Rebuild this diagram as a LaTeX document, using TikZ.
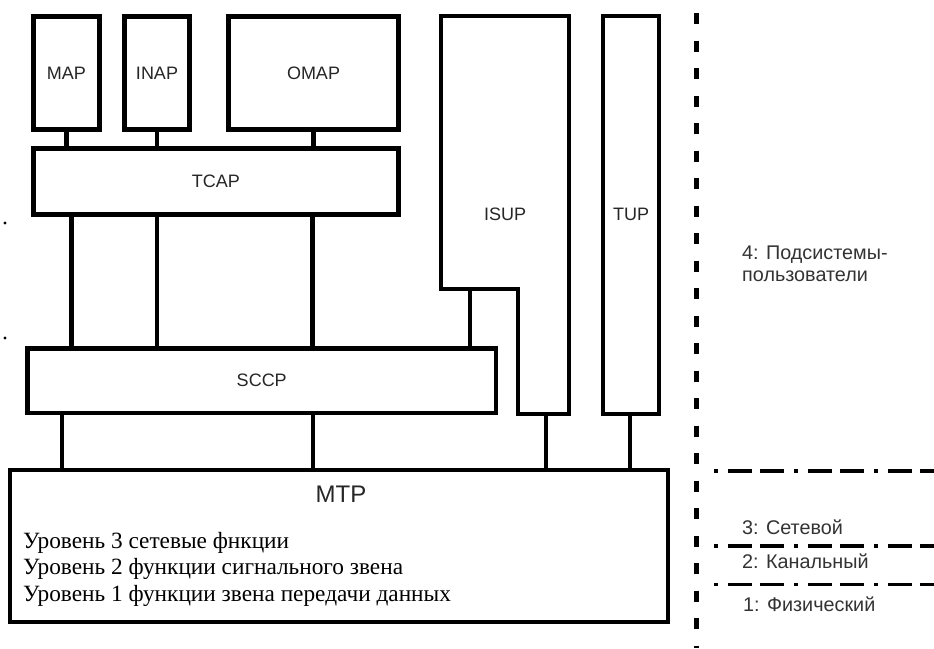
\documentclass[tikz,border=0pt]{standalone}
\usepackage{fontspec}
\setmainfont{Liberation Sans}
\newfontfamily\serifru{Liberation Serif}
\begin{document}
\begin{tikzpicture}[x=1pt,y=-1pt,
  boxline/.style={line width=4.8pt},
  blk/.style={draw,boxline,rectangle,inner sep=0pt,outer sep=0pt,text=black!85,
    font=\fontsize{18pt}{21pt}\selectfont},
  conn/.style={line width=4.8pt},
  lbl/.style={text=black!85,font=\fontsize{18pt}{21pt}\selectfont,inner sep=0pt},
  lvl/.style={text=black!80,font=\fontsize{19.8pt}{22pt}\selectfont,inner sep=0pt,anchor=base west},
  mtpline/.style={text=black,font=\serifru\fontsize{23.3pt}{26pt}\selectfont,inner sep=0pt,anchor=base west},
  sep/.style={line width=3.6pt,dash pattern=on 4pt off 10pt on 24pt off 8pt on 24pt off 10pt},
  vsep/.style={line width=5pt,dash pattern=on 11pt off 16.5pt}]
\useasboundingbox[fill=white] (0,0) rectangle (934,648);

% application boxes
\node[blk,minimum width=66pt,minimum height=113pt] (map) at (66.5,73) {MAP};
\node[blk,minimum width=65pt,minimum height=113pt] (inap) at (157,73) {INAP};
\node[blk,minimum width=170pt,minimum height=113pt] (omap) at (313.5,73) {OMAP};
\node[blk,minimum width=365pt,minimum height=66pt] (tcap) at (216,181.5) {TCAP};
\node[blk,minimum width=468.5pt,minimum height=64.5pt] (sccp) at (261.75,380.75) {SCCP};
\node[blk,minimum width=658pt,minimum height=152pt] (mtp) at (339,546) {};
\node[blk,minimum width=56pt,minimum height=398pt] (tup) at (631,215) {};

% ISUP (L-shaped)
\coordinate (i1) at (441,16);
\coordinate (i2) at (569,16);
\coordinate (i3) at (569,414);
\coordinate (i4) at (518,414);
\coordinate (i5) at (518,289);
\coordinate (i6) at (441,289);
\draw[boxline,line join=miter] (i1) -- (i2) -- (i3) -- (i4) -- (i5) -- (i6) -- cycle;
\coordinate (isupstep) at (470,289);
\coordinate (isupbot) at (546,414);

% labels
\node[lbl,anchor=base] (isup) at (505,220) {ISUP};
\node[lbl,anchor=base] (tuplbl) at (631,220) {TUP};
\node[lbl,anchor=base,font=\fontsize{24pt}{26pt}\selectfont] (mtplbl) at (341,502) {MTP};

% connectors
\draw[conn] (map.south) -- (map.south |- tcap.north);
\draw[conn] (inap.south) -- (inap.south |- tcap.north);
\draw[conn] (omap.south) -- (omap.south |- tcap.north);
\draw[conn] (tcap.south -| 71.5,0) -- (sccp.north -| 71.5,0);
\draw[conn] (tcap.south -| inap.south) -- (sccp.north -| inap.south);
\draw[conn] (tcap.south -| 312.5,0) -- (sccp.north -| 312.5,0);
\draw[conn] (isupstep) -- (sccp.north -| isupstep);
\draw[conn] (sccp.south -| 62,0) -- (mtp.north -| 62,0);
\draw[conn] (sccp.south -| 313,0) -- (mtp.north -| 313,0);
\draw[conn] (isupbot) -- (mtp.north -| isupbot);
\draw[conn] (tup.south -| 630,0) -- (mtp.north -| 630,0);

% MTP text
\node[mtpline] (l3) at (23,548) {Уровень 3 сетевые фнкции};
\node[mtpline] (l2) at (23,574.5) {Уровень 2 функции сигнального звена};
\node[mtpline] (l1) at (23,601) {Уровень 1 функции звена передачи данных};

% right side: layer separators
\coordinate (vtop) at (696,13);
\coordinate (vbot) at (696,648);
\draw[vsep] (vtop) -- (vbot);
\coordinate (s1a) at (714,471); \coordinate (s1b) at (934,471);
\coordinate (s2a) at (714,546); \coordinate (s2b) at (934,546);
\coordinate (s3a) at (714,584.5); \coordinate (s3b) at (934,584.5);
\draw[sep] (s1a) -- (s1b);
\draw[sep] (s2a) -- (s2b);
\draw[sep] (s3a) -- (s3b);

\node[lvl] (lv4a) at (742,259) {4: Подсистемы-};
\node[lvl] (lv4b) at (742,281) {пользователи};
\node[lvl] (lv3) at (742,534) {3: Сетевой};
\node[lvl] (lv2) at (742,568) {2: Канальный};
\node[lvl] (lv1) at (743,611) {1: Физический};

% stray dots at left
\fill (5,223) circle (1.6pt);
\fill (5,338) circle (1.6pt);
\end{tikzpicture}
\end{document}
